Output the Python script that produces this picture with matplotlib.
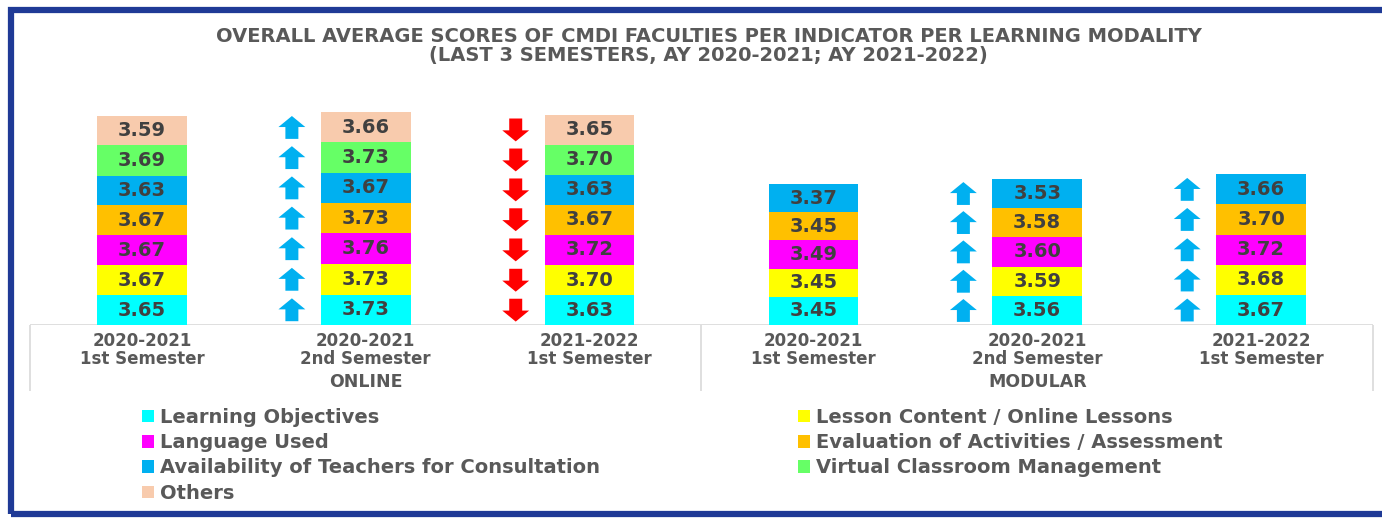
import matplotlib
matplotlib.use('Agg')
import matplotlib.pyplot as plt
import numpy as np
from matplotlib.patches import Patch, Rectangle

plt.rcParams['font.family'] = ['DejaVu Sans']
plt.rcParams['font.weight'] = 'bold'

# x categories: 3 semesters for each learning modality
semesters = ['2020-2021\n1st Semester', '2020-2021\n2nd Semester', '2021-2022\n1st Semester',
             '2020-2021\n1st Semester', '2020-2021\n2nd Semester', '2021-2022\n1st Semester']
modalities = ['ONLINE', 'MODULAR']
group_size = [3, 3]

indicators = ['Learning Objectives', 'Lesson Content / Online Lessons', 'Language Used',
              'Evaluation of Activities / Assessment', 'Availability of Teachers for Consultation',
              'Virtual Classroom Management', 'Others']
colors = ['#00FFFF', '#FFFF00', '#FF00FF', '#FFC000', '#00B0F0', '#66FF66', '#F8CBAD']

# scores per indicator (nan = indicator not rated for modular)
learning_objectives = [3.65, 3.73, 3.63, 3.45, 3.56, 3.67]
lesson_content = [3.67, 3.73, 3.70, 3.45, 3.59, 3.68]
language_used = [3.67, 3.76, 3.72, 3.49, 3.60, 3.72]
evaluation = [3.67, 3.73, 3.67, 3.45, 3.58, 3.70]
availability = [3.63, 3.67, 3.63, 3.37, 3.53, 3.66]
virtual_classroom = [3.69, 3.73, 3.70, np.nan, np.nan, np.nan]
others = [3.59, 3.66, 3.65, np.nan, np.nan, np.nan]

series = [learning_objectives, lesson_content, language_used, evaluation,
          availability, virtual_classroom, others]

TXT = '#595959'
UP = '#00B0F0'
DOWN = '#FF0000'

fig = plt.figure(figsize=(13.82, 5.27), dpi=100)
ax = fig.add_axes([30 / 1382, (527 - 325) / 527, 1343 / 1382, 235 / 527])

x = np.arange(len(semesters))
bottom = np.zeros(len(semesters))
first_of_group = np.cumsum([0] + group_size[:-1])

for name, vals, col in zip(indicators, series, colors):
    v = np.array(vals, dtype=float)
    ok = ~np.isnan(v)
    bars = ax.bar(x[ok], v[ok], 0.40, bottom=bottom[ok], color=col, edgecolor='none')
    ax.bar_label(bars, labels=['%.2f' % t for t in v[ok]], label_type='center',
                 fontsize=14, fontweight='bold', color='#404040')
    # trend arrows vs previous semester of the same modality
    for i in x[ok]:
        if i in first_of_group or np.isnan(v[i - 1]):
            continue
        yc = bottom[i] + v[i] / 2
        L = 2.8
        if v[i] >= v[i - 1]:
            ax.arrow(i - 0.33, yc - L / 2, 0, L, width=0.058, head_width=0.12, head_length=1.35,
                     length_includes_head=True, color=UP, lw=0)
        else:
            ax.arrow(i - 0.33, yc + L / 2, 0, -L, width=0.058, head_width=0.12, head_length=1.35,
                     length_includes_head=True, color=DOWN, lw=0)
    bottom[ok] += v[ok]

ax.set_xlim(-0.5, len(semesters) - 0.5)
ax.set_ylim(0, 235 / 8.17)
for s in ax.spines.values():
    s.set_visible(False)
ax.set_yticks([])
ax.set_xticks(x)
ax.set_xticklabels(semesters, fontsize=12, fontweight='bold', color=TXT, linespacing=1.0)
ax.tick_params(axis='x', length=0, pad=5)

# category box lines
ax.axhline(0, color='#D9D9D9', lw=1.2, zorder=0)
edges = np.concatenate([[0], np.cumsum(group_size)]) - 0.5
trans = ax.get_xaxis_transform()
ax.vlines(edges, -0.28, 0, transform=trans, color='#D9D9D9', lw=1.2, clip_on=False)
for name, e0, e1 in zip(modalities, edges[:-1], edges[1:]):
    ax.text((e0 + e1) / 2, -0.243, name, transform=trans, ha='center', va='center',
            fontsize=12.5, fontweight='bold', color=TXT)

fig.text(0.5127, 1 - 36 / 527, 'OVERALL AVERAGE SCORES OF CMDI FACULTIES PER INDICATOR PER LEARNING MODALITY',
         ha='center', va='center', fontsize=14, fontweight='bold', color=TXT)
fig.text(0.5127, 1 - 56 / 527, '(LAST 3 SEMESTERS, AY 2020-2021; AY 2021-2022)',
         ha='center', va='center', fontsize=14, fontweight='bold', color=TXT)

handles = [Patch(facecolor=c, edgecolor='none', label=n) for n, c in zip(indicators, colors)]
left_col = [handles[0], handles[2], handles[4], handles[6]]
right_col = [handles[1], handles[3], handles[5]]
for hs, xpos in [(left_col, 142 / 1382), (right_col, 798 / 1382)]:
    fig.legend(handles=hs, loc='upper left', bbox_to_anchor=(xpos, 1 - 408 / 527),
               frameon=False, fontsize=14, handlelength=0.6, handleheight=0.6,
               handletextpad=0.35, labelspacing=0.32, borderpad=0, borderaxespad=0,
               labelcolor=TXT)

# dark blue frame (right side runs off the picture)
fig.add_artist(Rectangle((11 / 1382, 13 / 527), 1.02, 1 - 23 / 527, transform=fig.transFigure,
                         fill=False, edgecolor='#1F3A96', lw=4.5))

fig.savefig('out.png', dpi=100, facecolor='white')
